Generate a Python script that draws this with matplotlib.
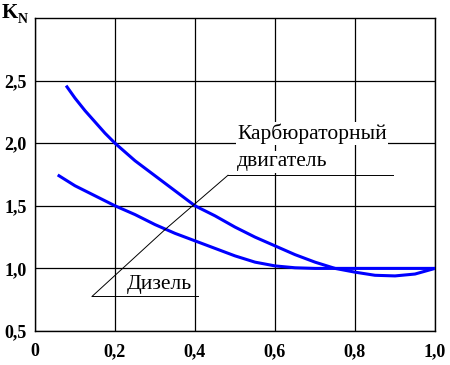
import matplotlib
matplotlib.use("Agg")
import matplotlib.pyplot as plt

# Data
carb_x = [0.08, 0.10, 0.125, 0.15, 0.175, 0.20, 0.25, 0.30, 0.35, 0.40, 0.45, 0.50,
          0.55, 0.60, 0.65, 0.70, 0.75, 0.80, 0.85, 0.90, 0.95, 1.00]
carb_y = [2.45, 2.36, 2.26, 2.17, 2.08, 2.00, 1.86, 1.74, 1.62, 1.50, 1.42, 1.33,
          1.25, 1.18, 1.11, 1.05, 1.00, 0.97, 0.945, 0.94, 0.955, 1.00]
diesel_x = [0.06, 0.10, 0.15, 0.20, 0.25, 0.30, 0.35, 0.40, 0.45, 0.50,
            0.55, 0.60, 0.65, 0.70, 0.80, 0.90, 1.00]
diesel_y = [1.74, 1.66, 1.58, 1.50, 1.43, 1.35, 1.28, 1.22, 1.16, 1.10,
            1.05, 1.02, 1.005, 1.00, 1.00, 1.00, 1.00]

x_ticks = [0, 0.2, 0.4, 0.6, 0.8, 1.0]
x_labels = ["0", "0,2", "0,4", "0,6", "0,8", "1,0"]
y_ticks = [0.5, 1.0, 1.5, 2.0, 2.5]
y_labels = ["0,5", "1,0", "1,5", "2,0", "2,5"]

label_carb_1 = "Карбюраторный"
label_carb_2 = "двигатель"
label_diesel = "Дизель"

plt.rcParams['font.family'] = ['Liberation Serif', 'DejaVu Serif']

fig = plt.figure(figsize=(4.5, 3.65), dpi=100)
ax = fig.add_axes([35/450, 34/365, 400/450, 313/365])
ax.set_xlim(0, 1.0)
ax.set_ylim(0.5, 3.0)

ax.set_xticks(x_ticks)
ax.set_xticklabels(x_labels, fontsize=13, fontweight='bold')
ax.set_yticks(y_ticks)
ax.set_yticklabels(y_labels, fontsize=13, fontweight='bold')
ax.tick_params(length=0, pad=6)
ax.tick_params(axis='x', pad=9)
ax.grid(True, color='black', linewidth=0.9)
ax.set_axisbelow(True)
for s in ax.spines.values():
    s.set_linewidth(1.0)
    s.set_color('black')

ax.plot(carb_x, carb_y, color='#0000ff', linewidth=2.2, zorder=3, solid_joinstyle='round')
ax.plot(diesel_x, diesel_y, color='#0000ff', linewidth=2.2, zorder=3, solid_joinstyle='round')

bb = dict(facecolor='white', edgecolor='none', pad=1)
ax.text(0.505, 2.032, label_carb_1, fontsize=15.5, ha='left', va='baseline', zorder=5, bbox=bb)
ax.text(0.505, 1.816, label_carb_2, fontsize=15.5, ha='left', va='baseline', zorder=5, bbox=bb)
ax.text(0.230, 0.832, label_diesel, fontsize=15.5, ha='left', va='baseline', zorder=5, bbox=bb)

# leader lines
lk = dict(color='black', linewidth=0.7, zorder=6)
ax.plot([0.4825, 0.895], [1.744, 1.744], **lk)
ax.plot([0.4825, 0.325], [1.744, 1.31], **lk)
ax.plot([0.1425, 0.4075], [0.776, 0.776], **lk)
ax.plot([0.1425, 0.325], [0.776, 1.31], **lk)

fig.text(2/450, 1 - 18/365, "K", fontsize=15, fontweight='bold', ha='left', va='baseline')
fig.text(18/450, 1 - 23/365, "N", fontsize=10, fontweight='bold', ha='left', va='baseline')

fig.savefig("out.png", dpi=100)
